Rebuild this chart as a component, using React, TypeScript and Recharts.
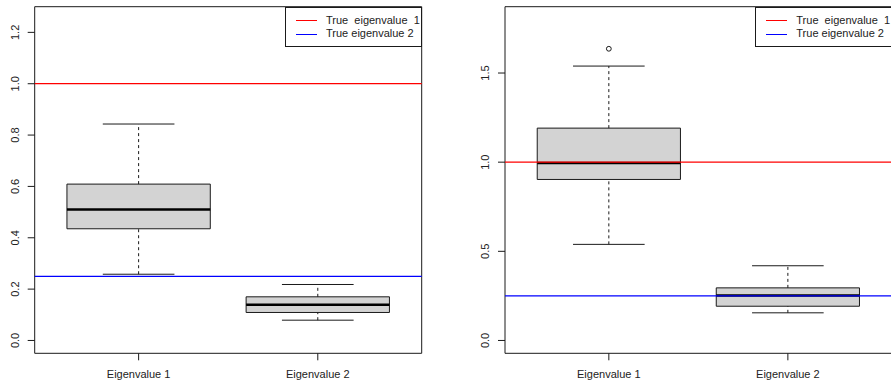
import React from 'react';
import {
  ComposedChart,
  XAxis,
  YAxis,
  ReferenceArea,
  ReferenceLine,
  Scatter,
  Legend,
} from 'recharts';

// Box categories and their x positions
const categories = ['Eigenvalue 1', 'Eigenvalue 2'];
const positions = [1, 2];

// True eigenvalues (horizontal reference lines) and legend text
const trueEigenvalues = [1, 0.25];
const trueColors = ['#FF0000', '#0000FF'];
const legendLabels = ['True  eigenvalue  1', 'True eigenvalue 2'];

// Left panel: five-number summaries
const leftLow = [0.258, 0.079];
const leftQ1 = [0.435, 0.109];
const leftMedian = [0.51, 0.139];
const leftQ3 = [0.609, 0.17];
const leftHigh = [0.843, 0.218];
const leftOutliers: { x: number; y: number }[] = [];
const leftTicks = [0, 0.2, 0.4, 0.6, 0.8, 1.0, 1.2];
const leftDomain: [number, number] = [-0.05, 1.3];

// Right panel: five-number summaries
const rightLow = [0.539, 0.155];
const rightQ1 = [0.903, 0.192];
const rightMedian = [0.995, 0.252];
const rightQ3 = [1.191, 0.295];
const rightHigh = [1.539, 0.419];
const rightOutliers = [{ x: 1, y: 1.636 }];
const rightTicks = [0, 0.5, 1.0, 1.5];
const rightDomain: [number, number] = [-0.072, 1.872];

const xDomain: [number, number] = [0.42, 2.58];
const BOX_HALF = 0.4;
const CAP_HALF = 0.2;
const FONT = '"Liberation Sans", Arial, Helvetica, sans-serif';
const INK = '#1a1a1a';

const YTick = (props: any) => {
  const { x, y, payload } = props;
  const label = payload.value === 0 ? '0.0' : Number(payload.value).toFixed(1);
  return (
    <text
      x={x}
      y={y}
      transform={`rotate(-90, ${x}, ${y})`}
      textAnchor="middle"
      fontSize={11}
      fontFamily={FONT}
      fill="#222"
    >
      {label}
    </text>
  );
};

const XTick = (props: any) => {
  const { x, y, payload } = props;
  return (
    <text x={x} y={y + 15.4} textAnchor="middle" fontSize={11} fontFamily={FONT} fill="#222">
      {categories[positions.indexOf(payload.value)]}
    </text>
  );
};

const LegendBox = () => (
  <div
    style={{
      width: 137,
      height: 40,
      boxSizing: 'border-box',
      border: `1px solid ${INK}`,
      background: '#fff',
      position: 'relative',
      fontFamily: FONT,
      fontSize: 11,
      color: '#222',
    }}
  >
    {legendLabels.map((label, i) => (
      <div key={label}>
        <div
          style={{
            position: 'absolute',
            left: 10,
            top: 12.8 + i * 13.7,
            width: 21,
            height: 1,
            background: trueColors[i],
          }}
        />
        <div
          style={{
            position: 'absolute',
            left: 40,
            top: 6 + i * 13.7,
            whiteSpace: 'pre',
            lineHeight: '13px',
          }}
        >
          {label}
        </div>
      </div>
    ))}
  </div>
);

const OpenCircle = (props: any) => {
  const { cx, cy } = props;
  return <circle cx={cx} cy={cy} r={2.4} fill="none" stroke={INK} strokeWidth={1} />;
};

type PanelProps = {
  width: number;
  axisWidth: number;
  rightMargin: number;
  domain: [number, number];
  ticks: number[];
  low: number[];
  q1: number[];
  median: number[];
  q3: number[];
  high: number[];
  outliers: { x: number; y: number }[];
  legendLeft: number;
};

const Panel = ({
  width,
  axisWidth,
  rightMargin,
  domain,
  ticks,
  low,
  q1,
  median,
  q3,
  high,
  outliers,
  legendLeft,
}: PanelProps) => (
  <ComposedChart
    width={width}
    height={388}
    margin={{ top: 6.7, right: rightMargin, left: 0, bottom: 4.7 }}
  >
    <XAxis
      type="number"
      dataKey="x"
      domain={xDomain}
      ticks={positions}
      allowDataOverflow
      axisLine={false}
      tickLine={{ stroke: INK }}
      tickSize={7}
      tickMargin={2}
      height={30}
      tick={<XTick />}
    />
    <YAxis
      type="number"
      dataKey="y"
      domain={domain}
      ticks={ticks}
      allowDataOverflow
      axisLine={false}
      tickLine={{ stroke: INK }}
      tickSize={7}
      tickMargin={9}
      width={axisWidth}
      tick={<YTick />}
    />
    {/* plot frame */}
    <ReferenceArea
      x1={xDomain[0]}
      x2={xDomain[1]}
      y1={domain[0]}
      y2={domain[1]}
      fill="none"
      stroke={INK}
      strokeWidth={1}
      ifOverflow="visible"
    />
    {positions.map((p, i) => (
      <ReferenceLine
        key={`wl-${i}`}
        segment={[{ x: p, y: low[i] }, { x: p, y: q1[i] }]}
        stroke={INK}
        strokeDasharray="3 3"
        ifOverflow="visible"
      />
    ))}
    {positions.map((p, i) => (
      <ReferenceLine
        key={`wh-${i}`}
        segment={[{ x: p, y: q3[i] }, { x: p, y: high[i] }]}
        stroke={INK}
        strokeDasharray="3 3"
        ifOverflow="visible"
      />
    ))}
    {positions.map((p, i) => (
      <ReferenceLine
        key={`cl-${i}`}
        segment={[{ x: p - CAP_HALF, y: low[i] }, { x: p + CAP_HALF, y: low[i] }]}
        stroke={INK}
        ifOverflow="visible"
      />
    ))}
    {positions.map((p, i) => (
      <ReferenceLine
        key={`ch-${i}`}
        segment={[{ x: p - CAP_HALF, y: high[i] }, { x: p + CAP_HALF, y: high[i] }]}
        stroke={INK}
        ifOverflow="visible"
      />
    ))}
    {positions.map((p, i) => (
      <ReferenceArea
        key={`box-${i}`}
        x1={p - BOX_HALF}
        x2={p + BOX_HALF}
        y1={q1[i]}
        y2={q3[i]}
        fill="#D3D3D3"
        fillOpacity={1}
        stroke={INK}
        strokeWidth={1}
        ifOverflow="visible"
      />
    ))}
    {positions.map((p, i) => (
      <ReferenceLine
        key={`med-${i}`}
        segment={[{ x: p - BOX_HALF, y: median[i] }, { x: p + BOX_HALF, y: median[i] }]}
        stroke="#000"
        strokeWidth={2.6}
        ifOverflow="visible"
      />
    ))}
    <Scatter data={outliers} shape={<OpenCircle />} isAnimationActive={false} legendType="none" />
    {trueEigenvalues.map((v, i) => (
      <ReferenceLine key={`true-${i}`} y={v} stroke={trueColors[i]} strokeWidth={1.2} />
    ))}
    <Legend
      verticalAlign="middle"
      align="center"
      content={<LegendBox />}
      wrapperStyle={{ left: legendLeft, top: 6.7, width: 137, height: 40 }}
    />
  </ComposedChart>
);

export default function App() {
  return (
    <div
      style={{
        position: 'absolute',
        left: 0,
        top: 0,
        width: 891,
        height: 388,
        overflow: 'hidden',
        background: '#fff',
      }}
    >
      <div style={{ position: 'absolute', left: 0, top: 0 }}>
        <Panel
          width={445}
          axisWidth={34.7}
          rightMargin={23.3}
          domain={leftDomain}
          ticks={leftTicks}
          low={leftLow}
          q1={leftQ1}
          median={leftMedian}
          q3={leftQ3}
          high={leftHigh}
          outliers={leftOutliers}
          legendLeft={285}
        />
      </div>
      <div style={{ position: 'absolute', left: 446, top: 0 }}>
        <Panel
          width={447}
          axisWidth={59}
          rightMargin={1.3}
          domain={rightDomain}
          ticks={rightTicks}
          low={rightLow}
          q1={rightQ1}
          median={rightMedian}
          q3={rightQ3}
          high={rightHigh}
          outliers={rightOutliers}
          legendLeft={309.3}
        />
      </div>
    </div>
  );
}
